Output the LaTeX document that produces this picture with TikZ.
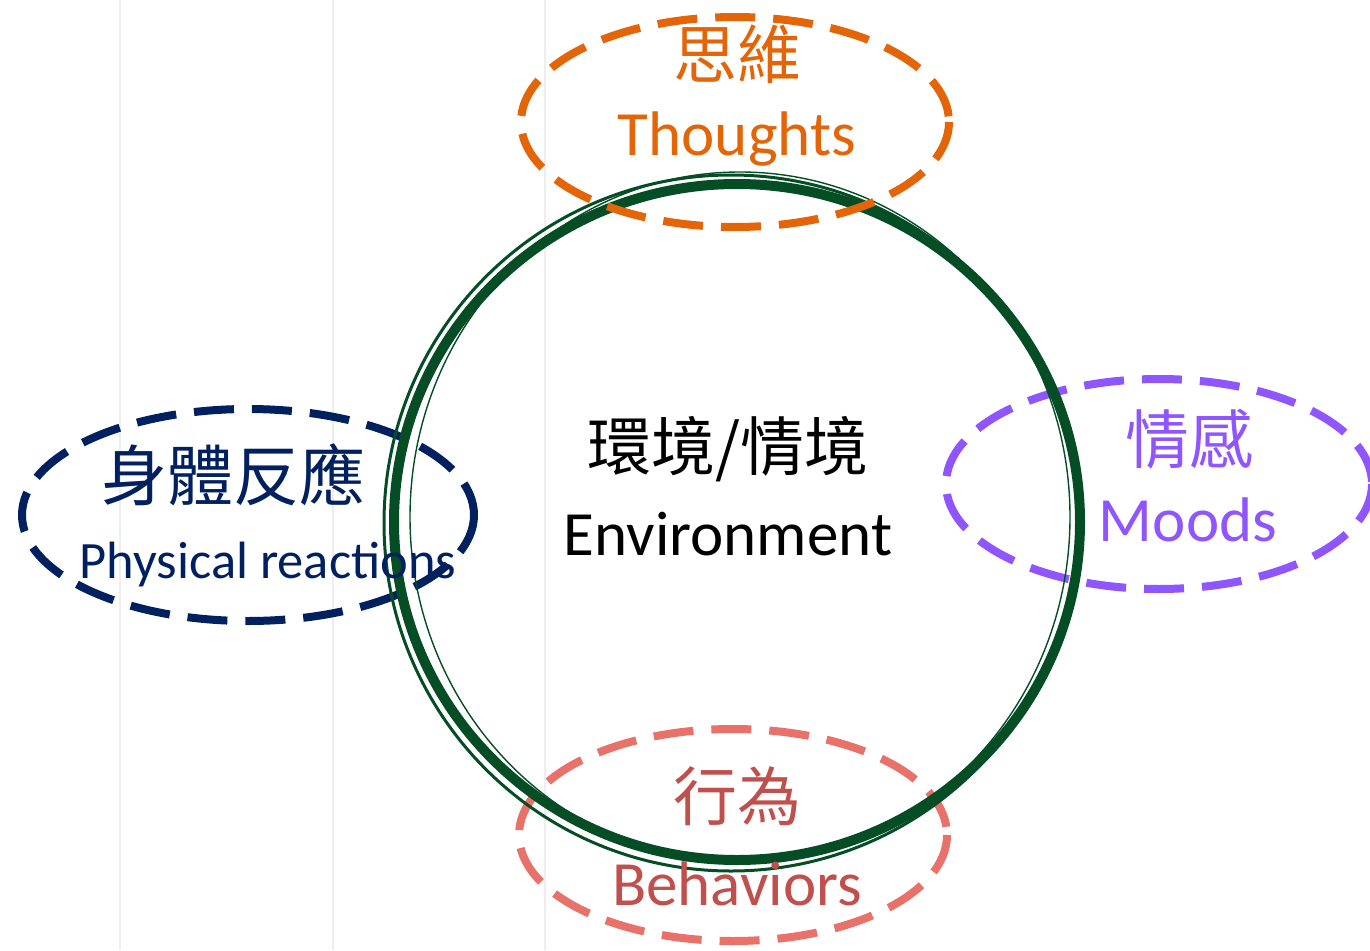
\documentclass[tikz,border=0pt]{standalone}
\usepackage{fontspec}
\setmainfont{Carlito}
\newfontfamily\cjk{Noto Sans CJK TC}
\definecolor{gridgray}{HTML}{EEEEEE}
\definecolor{envgreen}{HTML}{044D25}
\definecolor{thoughtorange}{HTML}{E46508}
\definecolor{bodynavy}{HTML}{002060}
\definecolor{moodpurple}{HTML}{8F55FF}
\definecolor{actsalmon}{HTML}{E8716A}
\definecolor{acttext}{HTML}{C0504D}
\tikzset{
  loop/.style={draw, line width=8pt, dash pattern=on 40pt off 18pt},
  zh/.style={font=\cjk\fontsize{64}{70}\selectfont, anchor=base},
  en/.style={font=\fontsize{63}{70}\selectfont, anchor=base},
}
\begin{document}
\begin{tikzpicture}[x=1pt, y=-1pt]
\useasboundingbox (0,0) rectangle (1370,950);
% faint column rules
\foreach \gx in {120,333,545} \draw[gridgray, line width=2pt] (\gx,0) -- (\gx,950);

% surrounding dashed ellipses
\draw[loop, bodynavy] (248,515) ellipse [x radius=226, y radius=106];
\draw[loop, moodpurple] (1159,484) ellipse [x radius=213, y radius=105];
\draw[loop, actsalmon] (733,835) ellipse [x radius=214, y radius=106];

% environment: sketched circle of several strokes
\draw[envgreen, line width=10pt] (737,522) ellipse [x radius=343, y radius=338];
\draw[envgreen, line width=3pt] (731,523) ellipse [x radius=347, y radius=348];
\draw[envgreen, line width=1.4pt] (740,517) ellipse [x radius=330, y radius=345];

\draw[loop, thoughtorange] (735,122) ellipse [x radius=214, y radius=105];

% labels
\node[zh, thoughtorange] (tzh) at (737,78) {思維};
\node[en, thoughtorange] (ten) at (737,155) {Thoughts};
\node[zh] (ezh) at (728,470) {環境/情境};
\node[en] (een) at (728,555) {Environment};
\node[zh, moodpurple] (mzh) at (1189,463) {情感};
\node[en, moodpurple] (men) at (1188,541) {Moods};
\node[zh, acttext] (bzh) at (737,820) {行為};
\node[en, acttext] (ben) at (737,905) {Behaviors};
\node[zh, bodynavy, font=\cjk\fontsize{66}{70}\selectfont] (pzh) at (233,500) {身體反應};
\node[en, bodynavy, font=\fontsize{52.5}{60}\selectfont] (pen) at (268,578) {Physical reactions};
\end{tikzpicture}
\end{document}
